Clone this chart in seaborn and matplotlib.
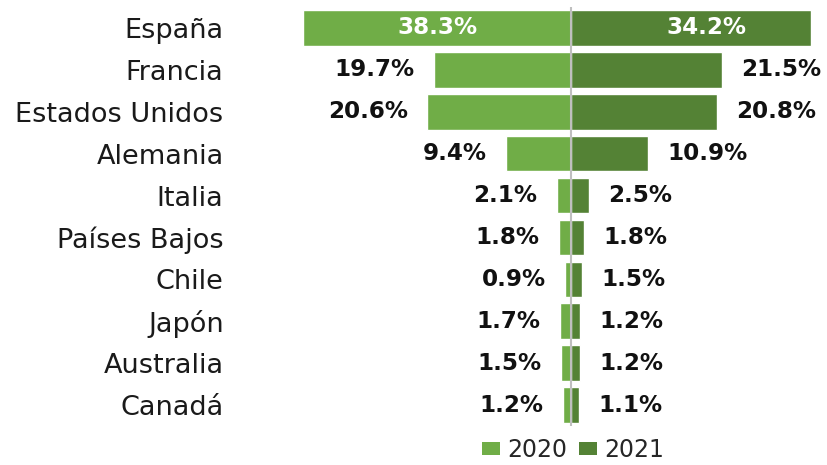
import matplotlib
matplotlib.use("Agg")
import matplotlib.pyplot as plt
import seaborn as sns
import pandas as pd
from matplotlib.patches import Patch

countries = ["España", "Francia", "Estados Unidos", "Alemania", "Italia",
             "Países Bajos", "Chile", "Japón", "Australia", "Canadá"]
vals_2020 = [38.3, 19.7, 20.6, 9.4, 2.1, 1.8, 0.9, 1.7, 1.5, 1.2]
vals_2021 = [34.2, 21.5, 20.8, 10.9, 2.5, 1.8, 1.5, 1.2, 1.2, 1.1]
years = ["2020", "2021"]
colors = {"2020": "#70AD47", "2021": "#548235"}

sns.set_style("white")
plt.rcParams["font.family"] = ["DejaVu Sans"]

df = pd.DataFrame({
    "country": countries * 2,
    "value": [-v for v in vals_2020] + vals_2021,
    "year": ["2020"] * len(countries) + ["2021"] * len(countries),
})

fig = plt.figure(figsize=(8.28, 4.65), dpi=100)
ax = fig.add_axes([300 / 828, 39 / 465, 515 / 828, 419 / 465])

sns.barplot(data=df, x="value", y="country", hue="year", order=countries,
            hue_order=years, palette=colors, dodge=False, width=0.85,
            orient="h", ax=ax, legend=False, saturation=1)

ax.set_xlim(-38.79, 34.79)
ax.set_ylim(9.5, -0.5)
ax.axvline(0, color="#BFBFBF", lw=1.5, zorder=5)
for s in ax.spines.values():
    s.set_visible(False)
ax.set_xticks([])
ax.set_xlabel("")
ax.set_ylabel("")
ax.tick_params(axis="y", length=0, pad=55, labelsize=19.5, labelcolor="#1a1a1a")

lab_kw = dict(fontsize=16.6, fontweight="bold", va="center", color="#111111",
              textcoords="offset points", annotation_clip=False)
for i, (a, b) in enumerate(zip(vals_2020, vals_2021)):
    if i == 0:
        ax.annotate(f"{a:.1f}%", xy=(-a / 2, i), xytext=(0, 0), ha="center",
                    **{**lab_kw, "color": "white"})
        ax.annotate(f"{b:.1f}%", xy=(b / 2, i), xytext=(11, 0), ha="center",
                    **{**lab_kw, "color": "white"})
    else:
        ax.annotate(f"{a:.1f}%", xy=(-a, i), xytext=(-14, 0), ha="right", **lab_kw)
        ax.annotate(f"{b:.1f}%", xy=(b, i), xytext=(14, 0), ha="left", **lab_kw)

handles = [Patch(facecolor=colors[y], edgecolor="none") for y in years]
fig.legend(handles, years, loc="center", bbox_to_anchor=(573 / 828, 1 - 450 / 465),
           ncol=2, frameon=False, fontsize=17, handlelength=0.75, handleheight=0.5,
           handletextpad=0.3, columnspacing=0.5, borderpad=0, borderaxespad=0)

fig.savefig("out.png", dpi=100)
